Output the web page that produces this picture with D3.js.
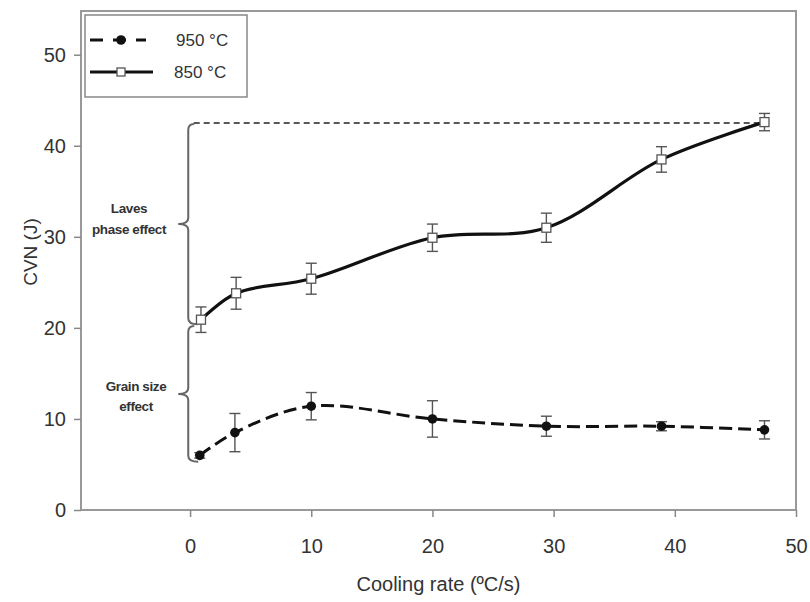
<!DOCTYPE html>
<html lang="en">
<head>
    <meta charset="UTF-8">
    <title>CVN vs cooling rate</title>
    <style>
        body { margin: 0; background: #fff; }
        text { font-family: Arial, "Liberation Sans", sans-serif; fill: #333; }
    </style>
</head>
<body>
    <div id="chart"></div>

    <script src="https://d3js.org/d3.v7.min.js"></script>
    <script>
        // Data
        const rate950 = [0.8, 3.7, 10.0, 20.0, 29.4, 38.9, 47.4];
        const cvn950 = [6.0, 8.5, 11.4, 10.0, 9.2, 9.2, 8.8];
        const err950 = [0.3, 2.1, 1.5, 2.0, 1.1, 0.5, 1.0];

        const rate850 = [0.9, 3.8, 10.0, 20.0, 29.4, 38.9, 47.4];
        const cvn850 = [20.9, 23.8, 25.4, 29.9, 31.0, 38.5, 42.6];
        const err850 = [1.4, 1.75, 1.7, 1.5, 1.6, 1.4, 0.95];

        const xTicks = [0, 10, 20, 30, 40, 50];
        const yTicks = [0, 10, 20, 30, 40, 50];

        const legendLabels = ["950 °C", "850 °C"];

        // annotation braces: [top, bottom] in CVN units
        const lavesRange = [42.4, 20.4];
        const grainRange = [20.2, 5.3];
        const maxLine = 42.5;

        const width = 810;
        const height = 602;
        const margin = { top: 11, right: 14, bottom: 92, left: 81 };

        const svg = d3.select("#chart")
            .append("svg")
            .attr("width", width)
            .attr("height", height);

        const x = d3.scaleLinear()
            .domain([-9, 50])
            .range([margin.left, width - margin.right]);

        const y = d3.scaleLinear()
            .domain([0, 54.8])
            .range([height - margin.bottom, margin.top]);

        // frame
        svg.append("rect")
            .attr("x", margin.left)
            .attr("y", margin.top)
            .attr("width", width - margin.right - margin.left)
            .attr("height", height - margin.bottom - margin.top)
            .attr("fill", "none")
            .attr("stroke", "#999")
            .attr("stroke-width", 2);

        // axes
        const xAxis = svg.append("g")
            .attr("transform", `translate(0, ${y(0)})`)
            .call(d3.axisBottom(x).tickValues(xTicks).tickSize(7).tickPadding(22));
        const yAxis = svg.append("g")
            .attr("transform", `translate(${margin.left}, 0)`)
            .call(d3.axisLeft(y).tickValues(yTicks).tickSize(7).tickPadding(8));

        [xAxis, yAxis].forEach(a => {
            a.select(".domain").remove();
            a.selectAll(".tick line").attr("stroke", "#888").attr("stroke-width", 1.5);
            a.selectAll(".tick text")
                .attr("fill", "#333")
                .style("font-family", "Arial, 'Liberation Sans', sans-serif")
                .style("font-size", "20px");
        });

        svg.append("text")
            .attr("x", (margin.left + width - margin.right) / 2)
            .attr("y", 591)
            .attr("text-anchor", "middle")
            .style("font-size", "20px")
            .text("Cooling rate (ºC/s)");

        svg.append("text")
            .attr("transform", `translate(37, 252) rotate(-90)`)
            .attr("text-anchor", "middle")
            .style("font-size", "19px")
            .text("CVN (J)");

        // dashed reference line at the 850 °C maximum
        svg.append("line")
            .attr("x1", x(0.3))
            .attr("x2", x(rate850[rate850.length - 1]))
            .attr("y1", y(maxLine))
            .attr("y2", y(maxLine))
            .attr("stroke", "#222")
            .attr("stroke-width", 1.6)
            .attr("stroke-dasharray", "6,4");

        // curly braces
        function brace(top, bottom, curlEnd) {
            const bx = x(-0.15);
            const y0 = y(top), y1 = y(bottom);
            const ym = (y0 + y1) / 2;
            const r = 6;
            return `M${bx + 6},${y0} Q${bx},${y0} ${bx},${y0 + r}` +
                ` L${bx},${ym - r} Q${bx},${ym} ${bx - 10},${ym}` +
                ` Q${bx},${ym} ${bx},${ym + r}` +
                ` L${bx},${y1 - r} Q${bx},${y1} ${bx + curlEnd},${y1}`;
        }

        svg.append("path")
            .attr("d", brace(lavesRange[0], lavesRange[1], 9))
            .attr("fill", "none")
            .attr("stroke", "#666")
            .attr("stroke-width", 2);

        svg.append("path")
            .attr("d", brace(grainRange[0], grainRange[1], 10))
            .attr("fill", "none")
            .attr("stroke", "#666")
            .attr("stroke-width", 2);

        const noteStyle = t => t.attr("text-anchor", "middle")
            .style("font-size", "13.5px")
            .style("font-weight", "bold")
            .style("letter-spacing", "-0.4px");

        svg.append("text").attr("x", 129).attr("y", 213).call(noteStyle).text("Laves");
        svg.append("text").attr("x", 129).attr("y", 234).call(noteStyle).text("phase effect");
        svg.append("text").attr("x", 136).attr("y", 391).call(noteStyle).text("Grain size");
        svg.append("text").attr("x", 136).attr("y", 411).call(noteStyle).text("effect");

        // series
        const data950 = rate950.map((r, i) => ({ r, v: cvn950[i], e: err950[i] }));
        const data850 = rate850.map((r, i) => ({ r, v: cvn850[i], e: err850[i] }));

        const line = d3.line()
            .x(d => x(d.r))
            .y(d => y(d.v))
            .curve(d3.curveCatmullRom.alpha(0.5));

        function errorBars(data) {
            const g = svg.append("g")
                .attr("stroke", "#555")
                .attr("stroke-width", 1.4);
            data.forEach(d => {
                g.append("line")
                    .attr("x1", x(d.r)).attr("x2", x(d.r))
                    .attr("y1", y(d.v - d.e)).attr("y2", y(d.v + d.e));
                [d.v - d.e, d.v + d.e].forEach(v => {
                    g.append("line")
                        .attr("x1", x(d.r) - 5.5).attr("x2", x(d.r) + 5.5)
                        .attr("y1", y(v)).attr("y2", y(v));
                });
            });
        }

        errorBars(data950);
        errorBars(data850);

        svg.append("path")
            .datum(data950)
            .attr("d", line)
            .attr("fill", "none")
            .attr("stroke", "#111")
            .attr("stroke-width", 3)
            .attr("stroke-dasharray", "13,6");

        svg.append("path")
            .datum(data850)
            .attr("d", line)
            .attr("fill", "none")
            .attr("stroke", "#111")
            .attr("stroke-width", 3.2);

        svg.selectAll(".dot950")
            .data(data950)
            .enter()
            .append("circle")
            .attr("class", "dot950")
            .attr("cx", d => x(d.r))
            .attr("cy", d => y(d.v))
            .attr("r", 4.8)
            .attr("fill", "#111");

        svg.selectAll(".sq850")
            .data(data850)
            .enter()
            .append("rect")
            .attr("class", "sq850")
            .attr("x", d => x(d.r) - 4.5)
            .attr("y", d => y(d.v) - 4.5)
            .attr("width", 9)
            .attr("height", 9)
            .attr("fill", "#fff")
            .attr("stroke", "#555")
            .attr("stroke-width", 1.3);

        // legend
        const legend = svg.append("g");
        legend.append("rect")
            .attr("x", 85)
            .attr("y", 15)
            .attr("width", 162)
            .attr("height", 82)
            .attr("fill", "#fff")
            .attr("stroke", "#888")
            .attr("stroke-width", 1.5);

        legend.append("line")
            .attr("x1", 90).attr("x2", 146)
            .attr("y1", 40).attr("y2", 40)
            .attr("stroke", "#111")
            .attr("stroke-width", 3)
            .attr("stroke-dasharray", "13,10");
        legend.append("circle")
            .attr("cx", 121).attr("cy", 40).attr("r", 4.8)
            .attr("fill", "#111");

        legend.append("line")
            .attr("x1", 90).attr("x2", 153)
            .attr("y1", 72).attr("y2", 72)
            .attr("stroke", "#111")
            .attr("stroke-width", 3.2);
        legend.append("rect")
            .attr("x", 117).attr("y", 68).attr("width", 8).attr("height", 8)
            .attr("fill", "#fff")
            .attr("stroke", "#555")
            .attr("stroke-width", 1.3);

        legend.selectAll(".legend-text")
            .data(legendLabels)
            .enter()
            .append("text")
            .attr("class", "legend-text")
            .attr("x", (d, i) => i === 0 ? 176 : 174)
            .attr("y", (d, i) => i === 0 ? 46 : 78)
            .style("font-size", "17px")
            .text(d => d);
    </script>
</body>
</html>
